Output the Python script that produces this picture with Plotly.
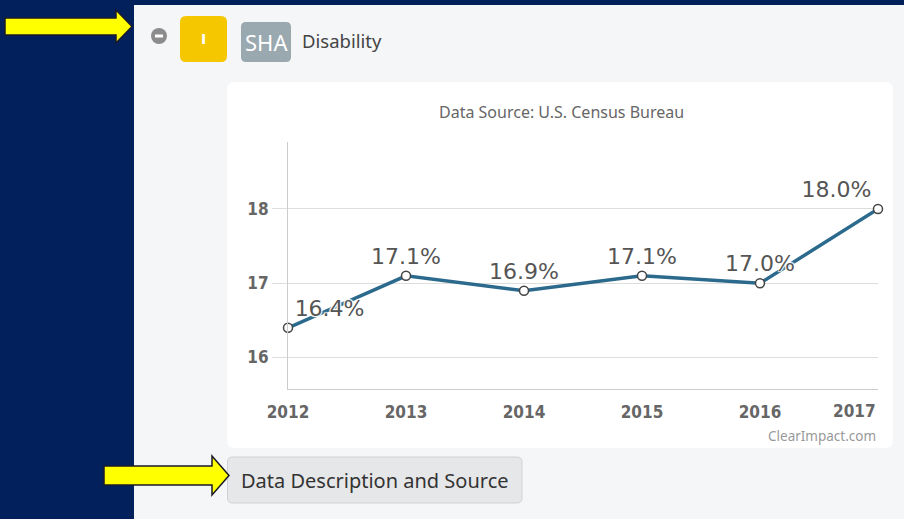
import plotly.graph_objects as go

# ---- data ----
years = [2012, 2013, 2014, 2015, 2016, 2017]
rates = [16.4, 17.1, 16.9, 17.1, 17.0, 18.0]
year_labels = ["2012", "2013", "2014", "2015", "2016", "2017"]
y_ticks = [16, 17, 18]
y_tick_labels = ["16", "17", "18"]
label_positions = ["top right", "top center", "top center", "top center", "top center", "top left"]

W, H = 904, 519
NAVY = "#01205c"
PANEL = "#f5f6f8"


def px(x):
    return x / W


def py(y):
    return 1 - y / H


data_labels = [f"{v:.1f}%" for v in rates]

fig = go.Figure()
fig.add_trace(go.Scatter(
    x=years, y=rates,
    mode="lines+markers+text",
    text=data_labels,
    textposition=label_positions,
    textfont=dict(family="DejaVu Sans", size=22, color="#555555",
                  shadow="1px 1px 1px #fff, -1px -1px 1px #fff, 1px -1px 1px #fff, -1px 1px 1px #fff"),
    line=dict(color="#2c6a8d", width=3.5),
    marker=dict(size=9, color="white", line=dict(color="#444444", width=1.5)),
    hoverinfo="skip",
    cliponaxis=False,
))

shapes = []
shapes.append(dict(type="rect", xref="paper", yref="paper", x0=px(134), x1=px(904), y0=py(519), y1=py(5),
                   fillcolor=PANEL, line=dict(width=0), layer="below"))


def rounded_rect(x0, y0, x1, y1, r, fill, line_color=None, line_width=0):
    p = (f"M {px(x0 + r)} {py(y0)} L {px(x1 - r)} {py(y0)} "
         f"Q {px(x1)} {py(y0)} {px(x1)} {py(y0 + r)} "
         f"L {px(x1)} {py(y1 - r)} Q {px(x1)} {py(y1)} {px(x1 - r)} {py(y1)} "
         f"L {px(x0 + r)} {py(y1)} Q {px(x0)} {py(y1)} {px(x0)} {py(y1 - r)} "
         f"L {px(x0)} {py(y0 + r)} Q {px(x0)} {py(y0)} {px(x0 + r)} {py(y0)} Z")
    return dict(type="path", xref="paper", yref="paper", path=p, fillcolor=fill,
                line=dict(color=line_color or fill, width=line_width), layer="below")


shapes.append(rounded_rect(227, 82, 893, 448, 8, "#ffffff"))
shapes.append(rounded_rect(180, 16, 227, 62, 6, "#f4c700"))
shapes.append(rounded_rect(241, 22, 291, 62, 5, "#9aa9b0"))
shapes.append(dict(type="circle", xref="paper", yref="paper", x0=px(151), x1=px(167), y0=py(44), y1=py(28),
                   fillcolor="#8c8c8c", line=dict(width=0), layer="below"))
shapes.append(dict(type="rect", xref="paper", yref="paper", x0=px(155), x1=px(163), y0=py(37.5), y1=py(34.5),
                   fillcolor="#ffffff", line=dict(width=0), layer="below"))
shapes.append(rounded_rect(227.5, 457, 522, 503, 5, "#e6e7e9", "#cfd2d5", 1))


def arrow(x0, ys0, ys1, xh, yh0, yh1, xt):
    yc = (yh0 + yh1) / 2
    p = (f"M {px(x0)} {py(ys0)} L {px(xh)} {py(ys0)} L {px(xh)} {py(yh0)} L {px(xt)} {py(yc)} "
         f"L {px(xh)} {py(yh1)} L {px(xh)} {py(ys1)} L {px(x0)} {py(ys1)} Z")
    return dict(type="path", xref="paper", yref="paper", path=p, fillcolor="#ffff00",
                line=dict(color="#1a1a2a", width=1.5), layer="above")


shapes.append(arrow(5, 18, 35, 116, 10, 43, 132))
shapes.append(arrow(104, 466, 485, 212, 456, 495, 229))

annotations = [
    dict(text="I", x=px(203.5), y=py(39), xref="paper", yref="paper", showarrow=False,
         font=dict(family="DejaVu Sans", size=14, color="white", weight="bold"), xanchor="center", yanchor="middle"),
    dict(text="SHA", x=px(266), y=py(42), xref="paper", yref="paper", showarrow=False,
         font=dict(family="Noto Sans", size=22, color="white"), xanchor="center", yanchor="middle"),
    dict(text="Disability", x=px(300), y=py(40), xref="paper", yref="paper", showarrow=False,
         font=dict(family="Noto Sans", size=18.5, color="#444444"), xanchor="left", yanchor="middle"),
    dict(text="Data Source: U.S. Census Bureau", x=px(561), y=py(112), xref="paper", yref="paper",
         showarrow=False, font=dict(family="Noto Sans", size=16, color="#666666"),
         xanchor="center", yanchor="middle"),
    dict(text="ClearImpact.com", x=px(878), y=py(436), xref="paper", yref="paper", showarrow=False,
         font=dict(family="Noto Sans", size=13.5, color="#999999"), xanchor="right", yanchor="middle"),
    dict(text="Data Description and Source", x=px(375), y=py(480), xref="paper", yref="paper",
         showarrow=False, font=dict(family="Noto Sans", size=20, color="#333333"),
         xanchor="center", yanchor="middle"),
    dict(text=year_labels[-1], x=years[-1], y=py(411), xref="x", yref="paper", showarrow=False,
         font=dict(family="DejaVu Sans Condensed, DejaVu Sans", size=17, color="#666666", weight="bold"),
         xanchor="right", yanchor="middle"),
]

tick_text = year_labels[:-1] + [""]

fig.update_layout(
    width=W, height=H,
    margin=dict(l=0, r=0, t=0, b=0, pad=0),
    paper_bgcolor=NAVY,
    plot_bgcolor="rgba(0,0,0,0)",
    showlegend=False,
    shapes=shapes,
    annotations=annotations,
    xaxis=dict(
        domain=[px(288), px(878)], range=[2012, 2017], tickvals=years, ticktext=tick_text,
        showgrid=False, zeroline=False, showline=True, linecolor="#cccccc", linewidth=1,
        ticks="", ticklabelstandoff=8, automargin=False,
        tickfont=dict(family="DejaVu Sans Condensed, DejaVu Sans", size=17, color="#666666", weight="bold"),
        fixedrange=True,
    ),
    yaxis=dict(
        domain=[py(389), py(142)], range=[15.576, 18.902], tickvals=y_ticks, ticktext=y_tick_labels,
        showgrid=True, gridcolor="#dddddd", gridwidth=1, zeroline=False,
        showline=True, linecolor="#cccccc", linewidth=1, automargin=False,
        ticks="outside", ticklen=15, tickcolor="#dddddd", tickwidth=1,
        tickfont=dict(family="DejaVu Sans Condensed, DejaVu Sans", size=17, color="#666666", weight="bold"),
        fixedrange=True,
    ),
)

fig.write_html("out.html", config={"displayModeBar": False, "staticPlot": True},
               post_script="document.body.style.margin='0';document.body.style.overflow='hidden';")
